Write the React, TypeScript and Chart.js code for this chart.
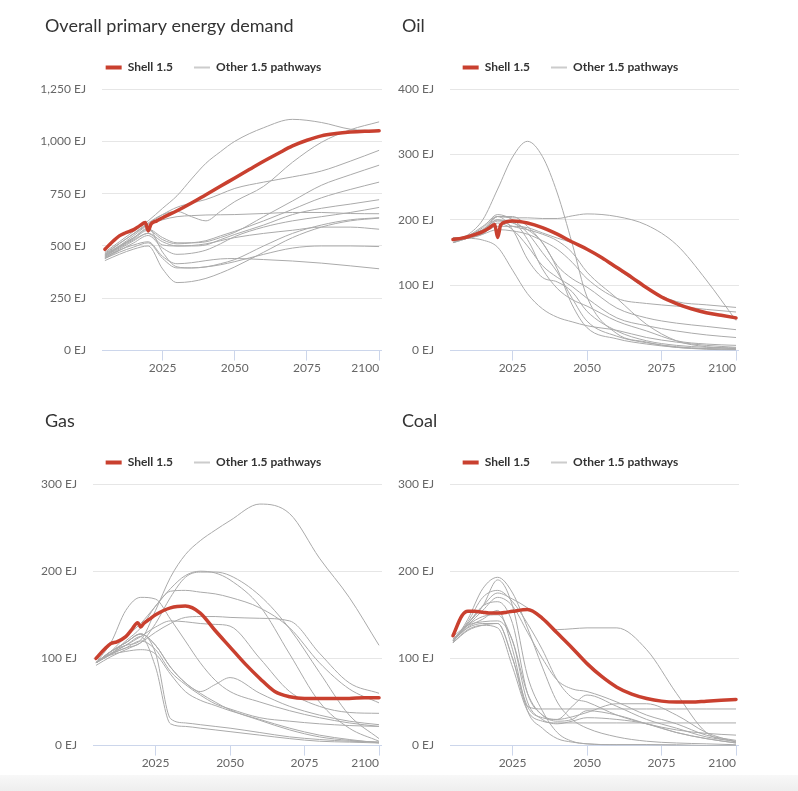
import React, { useEffect, useRef } from 'react';
import { Chart, registerables } from 'chart.js';

Chart.register(...registerables);

// ---------- data ----------
const SHELL_YEARS = [2005, 2008, 2010, 2012, 2015, 2017, 2019, 2020, 2021, 2023, 2025, 2030, 2035, 2040, 2045, 2050, 2055, 2060, 2065, 2070, 2075, 2080, 2085, 2090, 2095, 2100];
const PATH_YEARS = [2005, 2010, 2015, 2020, 2025, 2030, 2035, 2040, 2045, 2050, 2060, 2070, 2080, 2090, 2100];
const X_TICKS = [2004, 2025, 2050, 2075, 2100];

const SHELL_DEMAND = [484, 525, 548, 562, 578, 596, 612, 572, 605, 620, 635, 668, 705, 745, 785, 825, 865, 905, 942, 978, 1005, 1026, 1037, 1044, 1048, 1050];
const SHELL_OIL = [170, 172, 174, 177, 182, 187, 193, 173, 192, 197, 198, 195, 188, 178, 166, 155, 142, 127, 112, 96, 82, 72, 64, 58, 54, 50];
const SHELL_GAS = [100, 111, 117, 119, 125, 133, 141, 136, 140, 145, 150, 158, 160, 152, 132, 113, 94, 77, 62, 56, 54, 54, 54, 54, 55, 55];
const SHELL_COAL = [126, 149, 154, 154, 153, 152, 152, 152, 152, 153, 154, 156, 146, 129, 112, 94, 79, 67, 59, 54, 51, 50, 50, 51, 52, 53];

const DEMAND_PATHS = [
  [470, 520, 570, 620, 680, 740, 820, 895, 950, 1000, 1065, 1105, 1090, 1058, 1050],
  [460, 510, 560, 610, 650, 665, 640, 620, 665, 712, 785, 900, 995, 1055, 1093],
  [465, 512, 558, 605, 650, 685, 705, 722, 748, 775, 805, 830, 858, 905, 957],
  [455, 500, 550, 600, 625, 640, 645, 648, 649, 650, 655, 660, 660, 655, 654],
  [450, 495, 540, 580, 540, 515, 515, 520, 540, 565, 640, 715, 790, 840, 886],
  [455, 495, 535, 575, 530, 510, 515, 525, 548, 570, 620, 675, 730, 770, 805],
  [445, 485, 525, 560, 520, 500, 500, 505, 530, 555, 600, 650, 680, 700, 721],
  [440, 478, 515, 550, 490, 460, 465, 480, 510, 545, 590, 620, 640, 660, 684],
  [460, 500, 540, 585, 470, 400, 395, 400, 415, 435, 500, 560, 600, 625, 635],
  [450, 490, 530, 560, 505, 500, 502, 510, 525, 540, 560, 575, 590, 590, 580],
  [440, 470, 495, 515, 440, 395, 395, 400, 410, 425, 460, 490, 500, 500, 497],
  [445, 480, 505, 520, 450, 415, 420, 430, 438, 440, 435, 428, 418, 405, 391],
  [430, 460, 485, 500, 390, 325, 330, 345, 370, 400, 470, 540, 590, 620, 633],
];

const OIL_PATHS = [
  [165, 177, 200, 247, 296, 320, 297, 241, 164, 82, 26, 13, 5, 3, 2],
  [165, 175, 190, 205, 203, 203, 202, 202, 206, 209, 205, 192, 162, 108, 46],
  [168, 172, 180, 190, 190, 188, 180, 172, 165, 155, 125, 95, 75, 70, 66],
  [168, 172, 178, 185, 183, 178, 168, 155, 135, 110, 80, 72, 68, 63, 59],
  [165, 172, 180, 205, 205, 190, 165, 130, 110, 97, 65, 50, 42, 37, 32],
  [170, 172, 178, 195, 185, 160, 130, 112, 98, 80, 50, 38, 30, 24, 20],
  [173, 172, 169, 158, 123, 87, 64, 51, 44, 38, 31, 20, 13, 8, 5],
  [168, 175, 185, 205, 185, 140, 112, 105, 90, 60, 30, 15, 8, 5, 3],
  [165, 175, 188, 208, 200, 180, 150, 120, 80, 45, 22, 12, 6, 3, 2],
  [170, 176, 185, 200, 195, 185, 165, 125, 70, 35, 18, 10, 5, 2, 1],
  [165, 172, 182, 198, 196, 170, 125, 95, 78, 68, 45, 30, 15, 10, 8],
  [168, 174, 184, 200, 190, 185, 178, 168, 150, 120, 80, 40, 15, 6, 4],
];

const GAS_PATHS = [
  [95, 108, 115, 121, 155, 193, 219, 235, 247, 258, 277, 266, 215, 170, 115],
  [95, 118, 155, 170, 168, 145, 120, 95, 75, 62, 50, 40, 32, 26, 22],
  [95, 105, 120, 135, 160, 177, 178, 176, 174, 170, 158, 135, 95, 65, 49],
  [95, 105, 112, 118, 140, 170, 193, 199, 199, 195, 172, 134, 84, 35, 8],
  [95, 108, 125, 140, 160, 180, 195, 200, 198, 190, 160, 105, 50, 20, 5],
  [92, 102, 110, 118, 130, 140, 147, 148, 148, 147, 146, 143, 106, 72, 60],
  [95, 105, 115, 125, 136, 143, 142, 140, 139, 137, 100, 62, 45, 38, 37],
  [95, 108, 118, 128, 115, 90, 72, 62, 70, 78, 60, 45, 35, 28, 24],
  [95, 108, 118, 128, 106, 31, 26, 24, 22, 20, 15, 10, 7, 5, 4],
  [95, 106, 115, 125, 90, 25, 22, 20, 18, 16, 12, 8, 5, 4, 3],
  [95, 108, 118, 128, 115, 90, 72, 60, 50, 41, 29, 18, 10, 6, 4],
  [95, 105, 112, 120, 110, 85, 70, 58, 48, 42, 32, 28, 25, 23, 22],
  [95, 104, 108, 110, 105, 82, 62, 52, 46, 40, 30, 20, 12, 7, 3],
];

const COAL_PATHS = [
  [120, 140, 160, 175, 168, 158, 145, 133, 134, 135, 135, 110, 60, 15, 4],
  [120, 135, 140, 140, 100, 45, 42, 42, 42, 42, 42, 42, 42, 42, 42],
  [118, 133, 138, 135, 90, 40, 28, 26, 26, 26, 26, 26, 26, 26, 26],
  [122, 138, 148, 150, 120, 60, 35, 30, 45, 58, 45, 30, 20, 10, 5],
  [120, 138, 155, 170, 160, 130, 100, 75, 65, 62, 50, 35, 25, 12, 6],
  [118, 132, 138, 140, 100, 45, 32, 30, 33, 38, 48, 48, 35, 15, 4],
  [120, 136, 145, 155, 110, 40, 20, 8, 4, 2, 1, 1, 1, 0, 0],
  [122, 140, 160, 190, 160, 80, 40, 15, 5, 2, 1, 1, 0, 0, 0],
  [118, 145, 180, 193, 175, 135, 90, 50, 30, 20, 10, 5, 3, 2, 1],
  [120, 142, 170, 178, 165, 140, 110, 75, 55, 50, 35, 25, 18, 14, 12],
  [120, 140, 160, 165, 140, 60, 35, 28, 30, 40, 35, 25, 15, 8, 3],
  [125, 138, 142, 143, 120, 50, 30, 25, 28, 32, 30, 25, 15, 8, 3],
];

// ---------- style ----------
const FONT = "Lato, 'PT Sans', sans-serif";
const RED = '#c9402f';
const GRAY = '#aaaaaa';
const GRAY_LEGEND = '#cccccc';
const LEFT_ROOM = 15;

// lets the y tick labels use the room left of the axis box (layout padding)
const widenYAxis = {
  id: 'widenYAxis',
  afterLayout(chart: any) {
    const y = chart.scales.y;
    if (y) {
      y.left -= LEFT_ROOM;
      y.width += LEFT_ROOM;
    }
  },
};

type PanelProps = {
  title: string;
  left: number;
  top: number;
  yMax: number;
  yStep: number;
  yAxisWidth: number;
  shell: number[];
  paths: number[][];
};

function Panel({ title, left, top, yMax, yStep, yAxisWidth, shell, paths }: PanelProps) {
  const ref = useRef<HTMLCanvasElement | null>(null);

  useEffect(() => {
    if (!ref.current) return;
    const datasets: any[] = [
      {
        label: 'Shell 1.5',
        data: SHELL_YEARS.map((x, i) => ({ x, y: shell[i] })),
        borderColor: RED,
        backgroundColor: RED,
        borderWidth: 3.5,
        pointRadius: 0,
        cubicInterpolationMode: 'monotone',
        borderJoinStyle: 'round',
        borderCapStyle: 'round',
        order: 0,
      },
      ...paths.map((p) => ({
        label: 'Other 1.5 pathways',
        data: PATH_YEARS.map((x, i) => ({ x, y: p[i] })),
        borderColor: GRAY,
        backgroundColor: GRAY,
        borderWidth: 1,
        pointRadius: 0,
        cubicInterpolationMode: 'monotone',
        order: 1,
      })),
    ];

    const chart = new Chart(ref.current, {
      type: 'line',
      data: { datasets },
      plugins: [widenYAxis],
      options: {
        animation: false,
        responsive: true,
        maintainAspectRatio: false,
        events: [],
        layout: { padding: { left: LEFT_ROOM, right: 0, top: 0, bottom: 0 } },
        plugins: {
          title: {
            display: true,
            text: title,
            align: 'start',
            color: '#333333',
            font: { family: FONT, size: 18, weight: 'normal', lineHeight: 1.2 },
            padding: { top: 7, bottom: 4 },
          },
          subtitle: {
            display: true,
            text: '',
            weight: 500,
            font: { size: 1, lineHeight: 1 },
            padding: { top: 0, bottom: 4.4 },
          },
          legend: {
            display: true,
            position: 'top',
            align: 'center',
            labels: {
              usePointStyle: true,
              pointStyleWidth: 16,
              boxWidth: 16,
              padding: 21,
              color: '#333333',
              font: { family: FONT, size: 12, weight: 'bold' },
              generateLabels: () => [
                { text: 'Shell 1.5', strokeStyle: RED, fillStyle: RED, lineWidth: 4, pointStyle: 'line', hidden: false, datasetIndex: 0, fontColor: '#333333' },
                { text: 'Other 1.5 pathways', strokeStyle: GRAY_LEGEND, fillStyle: GRAY_LEGEND, lineWidth: 2, pointStyle: 'line', hidden: false, datasetIndex: 1, fontColor: '#333333' },
              ],
            },
          },
          tooltip: { enabled: false },
        },
        scales: {
          x: {
            type: 'linear',
            min: X_TICKS[0],
            max: 2101,
            afterBuildTicks: (s: any) => {
              s.ticks = X_TICKS.map((v) => ({ value: v }));
            },
            ticks: {
              align: 'inner',
              autoSkip: false,
              maxRotation: 0,
              padding: 0,
              color: '#666666',
              font: { family: FONT, size: 12 },
              callback: (v: any) => (v === X_TICKS[0] ? '' : String(v)),
            },
            grid: {
              drawOnChartArea: false,
              drawTicks: true,
              tickLength: 10,
              color: (c: any) => (c.tick && c.tick.value === X_TICKS[0] ? 'rgba(0,0,0,0)' : '#ccd6eb'),
            },
            border: { display: true, color: '#ccd6eb', width: 1 },
          },
          y: {
            min: 0,
            max: yMax,
            afterFit: (s: any) => {
              s.width = yAxisWidth;
            },
            ticks: {
              stepSize: yStep,
              padding: 16,
              color: '#666666',
              font: { family: FONT, size: 12 },
              callback: (v: any) => Number(v).toLocaleString('en-US') + ' EJ',
            },
            grid: {
              drawTicks: false,
              color: (c: any) => (c.tick && c.tick.value === 0 ? 'rgba(0,0,0,0)' : '#e6e6e6'),
            },
            border: { display: false },
          },
        },
      } as any,
    });
    return () => chart.destroy();
  }, []);

  return (
    <div style={{ position: 'absolute', left: left - LEFT_ROOM, top, width: 337 + LEFT_ROOM, height: 367 }}>
      <canvas ref={ref} />
    </div>
  );
}

export default function App() {
  return (
    <div style={{ position: 'absolute', left: 0, top: 0, width: 798, height: 791, background: '#ffffff', overflow: 'hidden' }}>
      <Panel title="Overall primary energy demand" left={45} top={8} yMax={1250} yStep={250} yAxisWidth={57} shell={SHELL_DEMAND} paths={DEMAND_PATHS} />
      <Panel title="Oil" left={402} top={8} yMax={400} yStep={100} yAxisWidth={48} shell={SHELL_OIL} paths={OIL_PATHS} />
      <Panel title="Gas" left={45} top={403} yMax={300} yStep={100} yAxisWidth={48} shell={SHELL_GAS} paths={GAS_PATHS} />
      <Panel title="Coal" left={402} top={403} yMax={300} yStep={100} yAxisWidth={48} shell={SHELL_COAL} paths={COAL_PATHS} />
      <div style={{ position: 'absolute', left: 0, top: 775, width: 798, height: 16, background: 'linear-gradient(#f8f8f8, #eeeeee)' }} />
    </div>
  );
}
